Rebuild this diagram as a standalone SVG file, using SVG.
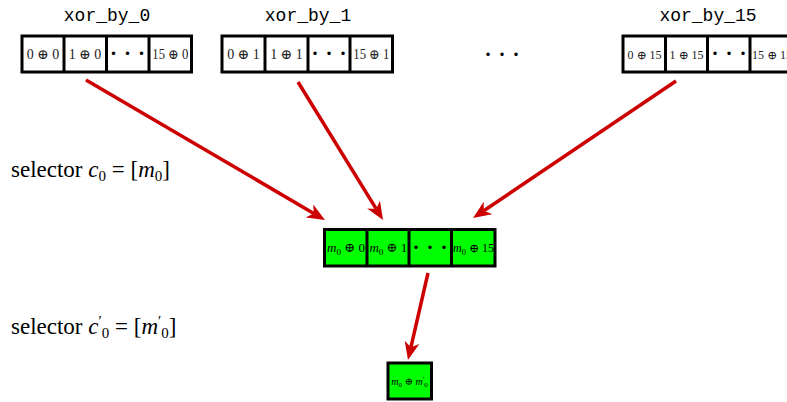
<svg xmlns="http://www.w3.org/2000/svg" width="787" height="402" viewBox="0 0 787 402">
<style>
.box{fill:#fff;stroke:#000;stroke-width:3}
.gbox{fill:#00ff00;stroke:#000;stroke-width:3}
.div{stroke:#000;stroke-width:3}
.lbl{font-family:"Liberation Mono",monospace;font-size:18px;text-anchor:middle;fill:#000}
.cell{font-family:"Liberation Serif","DejaVu Serif",serif;font-size:14px;text-anchor:middle;fill:#222}
.cell2{font-family:"Liberation Serif","DejaVu Serif",serif;font-size:12px;text-anchor:middle;fill:#222}
.gcell{font-family:"Liberation Serif","DejaVu Serif",serif;font-size:13px;text-anchor:middle;fill:#000}
.sel{font-family:"Liberation Serif","DejaVu Serif",serif;font-size:23px;fill:#000}
.it{font-style:italic}
.dots{font-family:"Liberation Serif","DejaVu Serif",serif;font-size:21px;text-anchor:middle;fill:#000;letter-spacing:7px;font-weight:bold}
.arr{stroke:#cc0000;stroke-width:3.5;fill:none;marker-end:url(#ah)}
</style>
<defs>
<marker id="ah" markerUnits="userSpaceOnUse" markerWidth="20" markerHeight="16" viewBox="0 -8 20 16" refX="5" refY="0" orient="auto">
<path d="M18,0 L0,-7.5 L5,0 L0,7.5 Z" fill="#cc0000"/>
</marker>
</defs>

<g id="xor_by_0">
<text class="lbl" x="107" y="21">xor_by_0</text>
<rect class="box" x="22" y="36" width="169.5" height="36"/>
<line class="div" x1="64" y1="36" x2="64" y2="72"/>
<line class="div" x1="106.5" y1="36" x2="106.5" y2="72"/>
<line class="div" x1="149" y1="36" x2="149" y2="72"/>
<text class="cell" x="43" y="59">0 ⊕ 0</text>
<text class="cell" x="85" y="59">1 ⊕ 0</text>
<text class="dots" x="131" y="60">···</text>
<text class="cell" x="170.3" y="59" textLength="36" lengthAdjust="spacingAndGlyphs">15 ⊕ 0</text>
</g>

<g id="xor_by_1">
<text class="lbl" x="308" y="21">xor_by_1</text>
<rect class="box" x="222" y="36" width="170.5" height="36"/>
<line class="div" x1="265" y1="36" x2="265" y2="72"/>
<line class="div" x1="308" y1="36" x2="308" y2="72"/>
<line class="div" x1="350" y1="36" x2="350" y2="72"/>
<text class="cell" x="243.5" y="59">0 ⊕ 1</text>
<text class="cell" x="286.5" y="59">1 ⊕ 1</text>
<text class="dots" x="332.5" y="60">···</text>
<text class="cell" x="371.3" y="59" textLength="36" lengthAdjust="spacingAndGlyphs">15 ⊕ 1</text>
</g>

<g id="ellipsis">
<text class="dots" x="505.5" y="61">···</text>
</g>

<g id="xor_by_15">
<text class="lbl" x="708" y="21">xor_by_15</text>
<rect class="box" x="623" y="36" width="170" height="36"/>
<line class="div" x1="665.5" y1="36" x2="665.5" y2="72"/>
<line class="div" x1="707.5" y1="36" x2="707.5" y2="72"/>
<line class="div" x1="750" y1="36" x2="750" y2="72"/>
<text class="cell2" x="644.5" y="58.5">0 ⊕ 15</text>
<text class="cell2" x="686.5" y="58.5">1 ⊕ 15</text>
<text class="dots" x="732.5" y="60">···</text>
<text class="cell2" x="772" y="58.5">15 ⊕ 15</text>
</g>

<g id="selector_c0">
<text class="sel" x="11" y="177">selector <tspan class="it">c</tspan><tspan font-size="15" dy="4">0</tspan><tspan dy="-4"> = [</tspan><tspan class="it">m</tspan><tspan font-size="15" dy="4">0</tspan><tspan dy="-4">]</tspan></text>
</g>

<g id="selected">
<rect class="gbox" x="324.5" y="229.5" width="170.5" height="36.5"/>
<line class="div" x1="367" y1="229.5" x2="367" y2="266"/>
<line class="div" x1="409" y1="229.5" x2="409" y2="266"/>
<line class="div" x1="451.5" y1="229.5" x2="451.5" y2="266"/>
<text class="gcell" x="346" y="252"><tspan class="it">m</tspan><tspan font-size="9" dy="3">0</tspan><tspan dy="-3"> ⊕ 0</tspan></text>
<text class="gcell" x="388.3" y="252"><tspan class="it">m</tspan><tspan font-size="9" dy="3">0</tspan><tspan dy="-3"> ⊕ 1</tspan></text>
<text class="dots" x="433.5" y="254">···</text>
<text class="gcell" x="473.5" y="252" style="font-size:12px"><tspan class="it">m</tspan><tspan font-size="8.5" dy="3">0</tspan><tspan dy="-3"> ⊕ 15</tspan></text>
</g>

<g id="selector_c0p">
<text class="sel" x="11" y="334">selector <tspan class="it">c</tspan><tspan font-size="15" dy="-8">′</tspan><tspan font-size="15" dy="12">0</tspan><tspan dy="-4"> = [</tspan><tspan class="it">m</tspan><tspan font-size="15" dy="-8">′</tspan><tspan font-size="15" dy="12">0</tspan><tspan dy="-4">]</tspan></text>
</g>

<g id="result">
<rect class="gbox" x="388" y="363" width="43.5" height="36"/>
<text class="gcell" x="409.5" y="385" style="font-size:10px"><tspan class="it">m</tspan><tspan font-size="7" dy="2">0</tspan><tspan dy="-2"> ⊕ </tspan><tspan class="it">m</tspan><tspan font-size="7" dy="-4">′</tspan><tspan font-size="7" dy="6">0</tspan></text>
</g>

<g id="connectors">
<line class="arr" x1="86" y1="80" x2="313.8" y2="213.4"/>
<line class="arr" x1="298" y1="82" x2="376.2" y2="208.9"/>
<line class="arr" x1="676" y1="81" x2="483.8" y2="210.7"/>
<line class="arr" x1="428" y1="273" x2="410.9" y2="347.3"/>
</g>
</svg>
